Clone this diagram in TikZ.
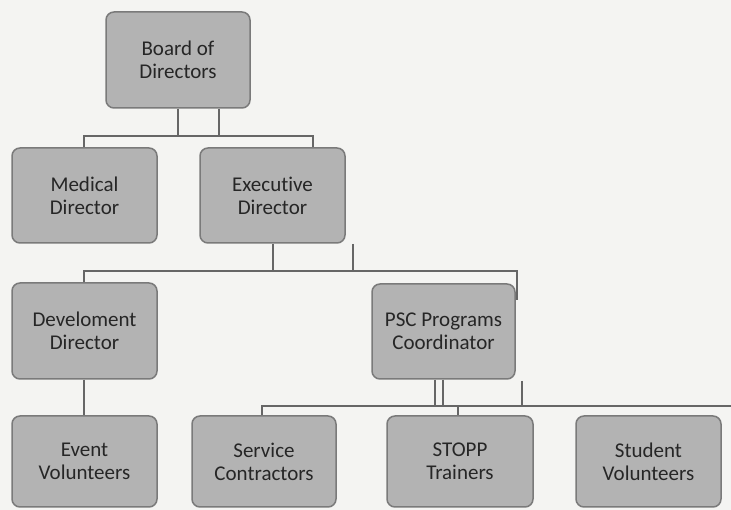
\documentclass[tikz,border=0pt]{standalone}
\usepackage{fontspec}
\setmainfont[Ligatures=NoCommon]{Carlito}
\definecolor{bg}{HTML}{F4F4F2}
\definecolor{boxfill}{HTML}{B3B3B3}
\definecolor{boxborder}{HTML}{7A7A7A}
\definecolor{linecol}{HTML}{666666}
\definecolor{txt}{HTML}{262626}
\begin{document}
\begin{tikzpicture}[x=1pt,y=1pt,
  orgbox/.style={draw=boxborder, fill=boxfill, rounded corners=8pt, line width=1.5pt,
    minimum width=145pt, minimum height=95pt, align=center, inner sep=0pt,
    text=txt, font=\fontsize{21}{23}\selectfont},
  conn/.style={draw=linecol, line width=2.6pt}]
\useasboundingbox (0,0) rectangle (731,510);
\fill[bg] (0,0) rectangle (731,510);

\node[orgbox, minimum width=144pt, minimum height=96pt] (board) at (178,450) {Board of\\Directors};
\node[orgbox] (med) at (84.5,314.5) {Medical\\Director};
\node[orgbox] (exec) at (272.5,314.5) {Executive\\Director};
\node[orgbox, minimum height=96pt] (dev) at (84.5,179) {Develoment\\Director};
\node[orgbox, minimum width=143pt] (psc) at (443.5,178.5) {PSC Programs\\Coordinator};
\node[orgbox, minimum height=91pt] (event) at (84.5,48.5) {Event\\Volunteers};
\node[orgbox, minimum width=144pt, minimum height=91pt] (service) at (264,48.5) {Service\\Contractors};
\node[orgbox, minimum width=146pt, minimum height=91pt] (stopp) at (460,48.5) {STOPP\\Trainers};
\node[orgbox, minimum height=91pt] (student) at (648.5,48.5) {Student\\Volunteers};

% level 1 connectors
\coordinate (b1) at (178,374);
\coordinate (b2) at (219,374);
\coordinate (bl) at (84,374);
\coordinate (br) at (313,374);
\draw[conn] (board.south) -- (b1);
\draw[conn] (board.south -| b2) -- (b2);
\draw[conn] (med.north -| bl) -- (bl) -- (br) -- (exec.north -| br);

% level 2 connectors
\coordinate (e1) at (273,239);
\coordinate (e2) at (353,239);
\coordinate (e2top) at (353,266);
\coordinate (el) at (84,239);
\coordinate (er) at (517,239);
\coordinate (erend) at (517,210);
\draw[conn] (exec.south -| e1) -- (e1);
\draw[conn] (e2top) -- (e2);
\draw[conn] (dev.north -| el) -- (el) -- (er) -- (erend);

% dev to event
\draw[conn] (dev.south -| el) -- (event.north -| el);

% level 3 connectors
\coordinate (p1) at (435,104);
\coordinate (p2) at (443,104);
\coordinate (p3) at (522,104);
\coordinate (p3top) at (522,129);
\coordinate (pl) at (262,104);
\coordinate (pr) at (731,104);
\coordinate (ps) at (458,104);
\draw[conn] (psc.south -| p1) -- (p1);
\draw[conn] (psc.south -| p2) -- (p2);
\draw[conn] (p3top) -- (p3);
\draw[conn] (service.north -| pl) -- (pl) -- (pr);
\draw[conn] (ps) -- (stopp.north -| ps);
\end{tikzpicture}
\end{document}
